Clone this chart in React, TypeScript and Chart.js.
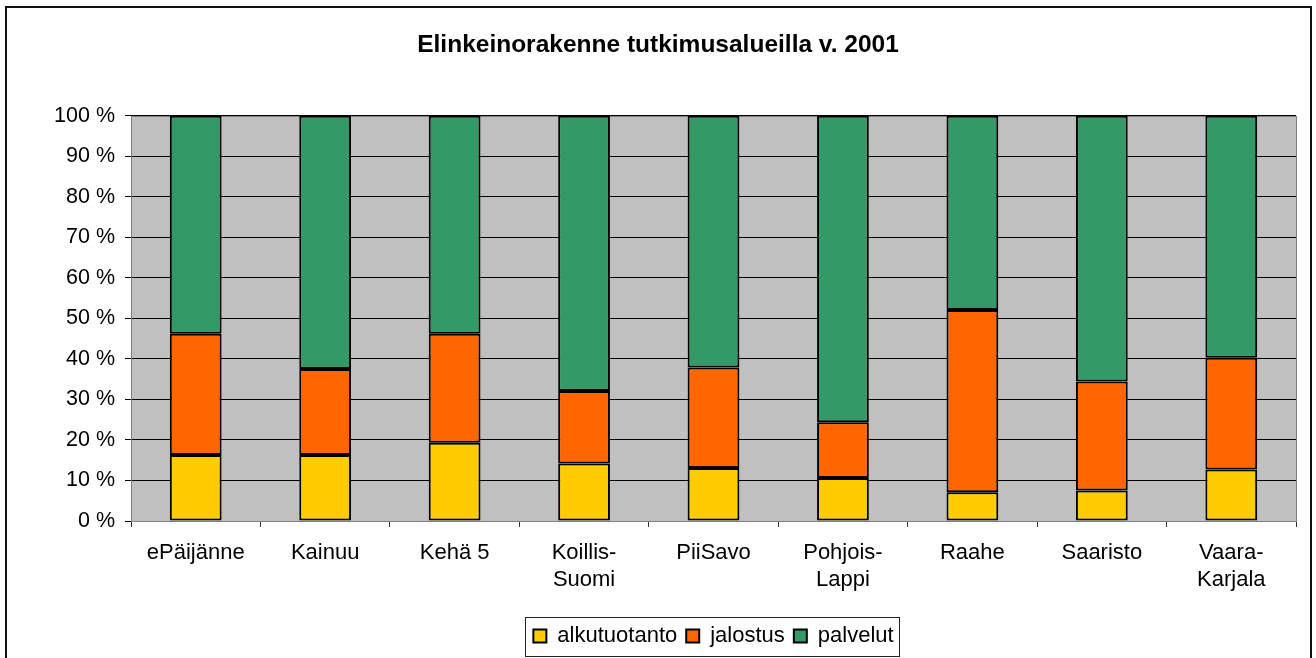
import React, { useEffect, useRef } from "react";
import { Chart, registerables } from "chart.js";

Chart.register(...registerables);

const categories: (string | string[])[] = [
  "ePäijänne",
  "Kainuu",
  "Kehä 5",
  ["Koillis-", "Suomi"],
  "PiiSavo",
  ["Pohjois-", "Lappi"],
  "Raahe",
  "Saaristo",
  ["Vaara-", "Karjala"],
];

const alkutuotanto = [16.3, 16.3, 19.3, 14.2, 13.1, 10.6, 7.1, 7.5, 12.7];
const jalostus = [29.9, 21.2, 26.9, 17.9, 24.8, 13.8, 45.0, 26.9, 27.6];
const palvelut = [53.8, 62.5, 53.8, 67.9, 62.1, 75.6, 47.9, 65.6, 59.7];

const yTickLabels = ["0 %", "10 %", "20 %", "30 %", "40 %", "50 %", "60 %", "70 %", "80 %", "90 %", "100 %"];

const seriesNames = ["alkutuotanto", "jalostus", "palvelut"];
const seriesColors = ["#FFCC00", "#FF6600", "#339966"];

const FONT = "'Liberation Sans', Arial, Helvetica, sans-serif";

const decorPlugin = {
  id: "decor",
  beforeDraw(chart: any) {
    const { ctx, chartArea } = chart;
    ctx.save();
    ctx.fillStyle = "#FFFFFF";
    ctx.fillRect(0, 0, chart.width, chart.height);
    ctx.fillStyle = "#C0C0C0";
    ctx.fillRect(chartArea.left, chartArea.top, chartArea.right - chartArea.left, chartArea.bottom - chartArea.top);
    ctx.restore();
  },
  beforeDatasetsDraw(chart: any) {
    const { ctx, chartArea } = chart;
    ctx.save();
    ctx.strokeStyle = "#808080";
    ctx.lineWidth = 1;
    ctx.strokeRect(
      Math.round(chartArea.left) + 0.5,
      Math.round(chartArea.top) + 0.5,
      Math.round(chartArea.right - chartArea.left),
      Math.round(chartArea.bottom - chartArea.top)
    );
    ctx.restore();
  },
  afterDraw(chart: any) {
    const { ctx } = chart;
    ctx.save();
    ctx.strokeStyle = "#111";
    ctx.lineWidth = 2;
    ctx.strokeRect(6, 7, 1305, 700);
    const boxes = chart.legend?.legendHitBoxes || [];
    if (boxes.length) {
      let l = Infinity, r = -Infinity, t = Infinity, b = -Infinity;
      for (const hb of boxes) {
        l = Math.min(l, hb.left);
        r = Math.max(r, hb.left + hb.width);
        t = Math.min(t, hb.top);
        b = Math.max(b, hb.top + hb.height);
      }
      const cy = (t + b) / 2;
      ctx.strokeStyle = "#222";
      ctx.lineWidth = 1;
      ctx.strokeRect(Math.round(l - 8) + 0.5, Math.round(cy - 19.5) + 0.5, Math.round(r - l + 14), 39);
    }
    ctx.restore();
  },
};

export default function App() {
  const canvasRef = useRef<HTMLCanvasElement | null>(null);

  useEffect(() => {
    if (!canvasRef.current) return;
    Chart.defaults.font.family = FONT;
    Chart.defaults.color = "#000";
    const chart = new Chart(canvasRef.current, {
      type: "bar",
      data: {
        labels: categories as any,
        datasets: [alkutuotanto, jalostus, palvelut].map((d, i) => ({
          label: seriesNames[i],
          data: d,
          backgroundColor: seriesColors[i],
          borderColor: "#000",
          borderWidth: 2,
          borderSkipped: false,
          barPercentage: 0.4,
          categoryPercentage: 1,
        })),
      },
      options: {
        responsive: false,
        animation: false,
        layout: { padding: { left: 10, right: 10, top: 0, bottom: 1 } },
        plugins: {
          tooltip: { enabled: false },
          title: {
            display: true,
            text: "Elinkeinorakenne tutkimusalueilla v. 2001",
            color: "#000",
            font: { family: FONT, size: 24.5, weight: "bold" },
            padding: { top: 31, bottom: 55.4 },
          },
          legend: {
            position: "bottom",
            fullSize: false,
            labels: {
              boxWidth: 13,
              boxHeight: 13,
              padding: 9,
              color: "#000",
              font: { family: FONT, size: 22 },
            },
          },
        },
        scales: {
          x: {
            stacked: true,
            grid: {
              display: true,
              drawOnChartArea: false,
              drawTicks: true,
              tickLength: 6,
              color: "#333",
              offset: true,
            },
            border: { display: true, color: "#333", width: 1 },
            ticks: {
              color: "#000",
              padding: 12,
              maxRotation: 0,
              autoSkip: false,
              font: { family: FONT, size: 22, lineHeight: 1.23 },
            },
            afterFit: (s: any) => {
              s.height = 95;
            },
          },
          y: {
            stacked: true,
            min: 0,
            max: 100,
            grid: { color: "#000", lineWidth: 1, tickLength: 6, drawTicks: true },
            border: { display: true, color: "#333", width: 1 },
            ticks: {
              stepSize: 10,
              color: "#000",
              padding: 10,
              font: { family: FONT, size: 21.5 },
              callback: (_v: any, i: number) => yTickLabels[i],
            },
            afterFit: (s: any) => {
              s.width = 121;
            },
          },
          yR: {
            position: "right",
            display: true,
            grid: { display: false },
            border: { display: false },
            ticks: { display: false },
            afterFit: (s: any) => {
              s.width = 10;
            },
          },
        },
      },
      plugins: [decorPlugin],
    } as any);
    return () => chart.destroy();
  }, []);

  return (
    <div style={{ position: "fixed", left: 0, top: 0, width: 1316, height: 658, background: "#fff" }}>
      <canvas ref={canvasRef} width={1316} height={658} style={{ display: "block" }} />
    </div>
  );
}
